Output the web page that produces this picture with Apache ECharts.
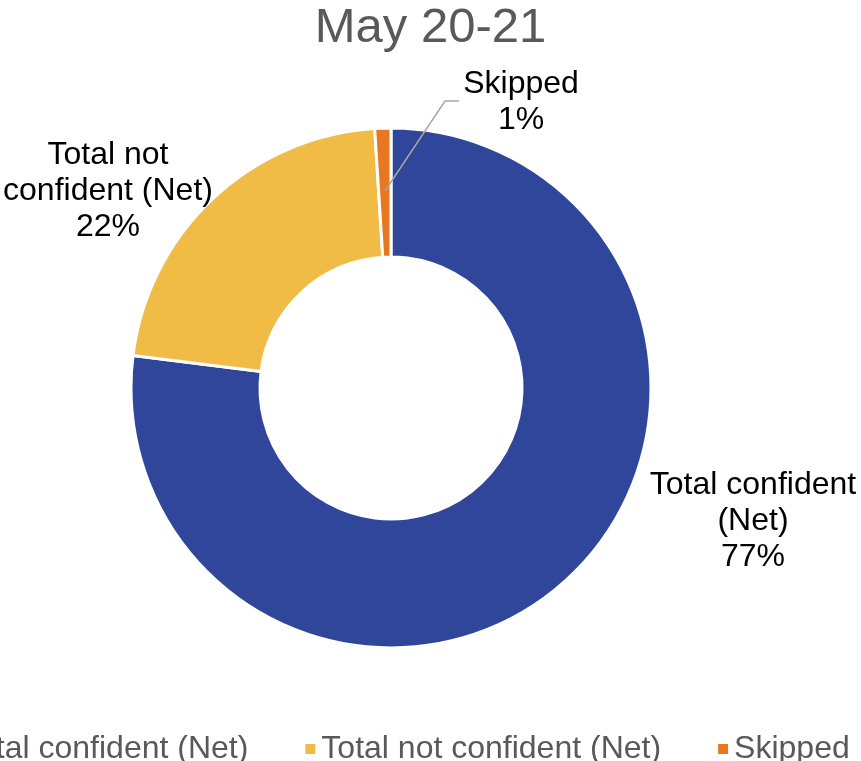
<!DOCTYPE html>
<html>
<head>
<meta charset="utf-8">
<script src="https://cdn.jsdelivr.net/npm/echarts@6/dist/echarts.min.js"></script>
<style>
  html, body { margin: 0; padding: 0; background: #fff; }
  #pie { width: 861px; height: 761px; }
</style>
</head>
<body>
<div id="pie"></div>
<script>
var categories = ['Total confident (Net)', 'Total not confident (Net)', 'Skipped'];
var values = [77, 22, 1];
var labelTexts = ['Total confident\n(Net)\n77%', 'Total not\nconfident (Net)\n22%', 'Skipped\n1%'];
var colors = ['#30469b', '#f0bc46', '#e87722'];

// where each label sits (centre of the text block)
var labelSpots = [[753, 521], [108, 191], [521, 102]];

var myChart = echarts.init(document.getElementById('pie'));

myChart.setOption({
    title: {
        text: 'May 20-21',
        left: 'center',
        top: -1,
        textStyle: {
            fontFamily: 'Liberation Sans',
            fontSize: 49,
            fontWeight: 'normal',
            color: '#595959'
        }
    },
    legend: {
        data: categories,
        left: -61,
        top: 728,
        icon: 'rect',
        itemWidth: 12,
        itemHeight: 12,
        itemGap: 55,
        textStyle: {
            fontFamily: 'Liberation Sans',
            fontSize: 32,
            color: '#595959'
        }
    },
    // leader line for the small "Skipped" slice, drawn over the ring
    graphic: [{
        type: 'polyline',
        z: 100,
        silent: true,
        shape: { points: [[385, 191], [445, 101], [459, 101]] },
        style: { stroke: '#a6a6a6', lineWidth: 1.5, fill: null }
    }],
    series: [{
        type: 'pie',
        center: [391, 388],
        radius: [131, 260],
        startAngle: 90,
        clockwise: true,
        silent: true,
        itemStyle: {
            borderColor: '#fff',
            borderWidth: 3
        },
        label: {
            show: true,
            position: 'outside',
            fontFamily: 'Liberation Sans',
            fontSize: 32,
            lineHeight: 36,
            color: '#000',
            align: 'center',
            overflow: 'none',
            width: 300,
            formatter: function (p) {
                return labelTexts[p.dataIndex];
            }
        },
        labelLine: {
            show: false
        },
        labelLayout: function (p) {
            var spot = labelSpots[p.dataIndex];
            return {
                x: spot[0],
                y: spot[1],
                align: 'center',
                verticalAlign: 'middle'
            };
        },
        data: categories.map(function (name, i) {
            return {
                name: name,
                value: values[i],
                itemStyle: { color: colors[i] }
            };
        })
    }]
});
</script>
</body>
</html>
